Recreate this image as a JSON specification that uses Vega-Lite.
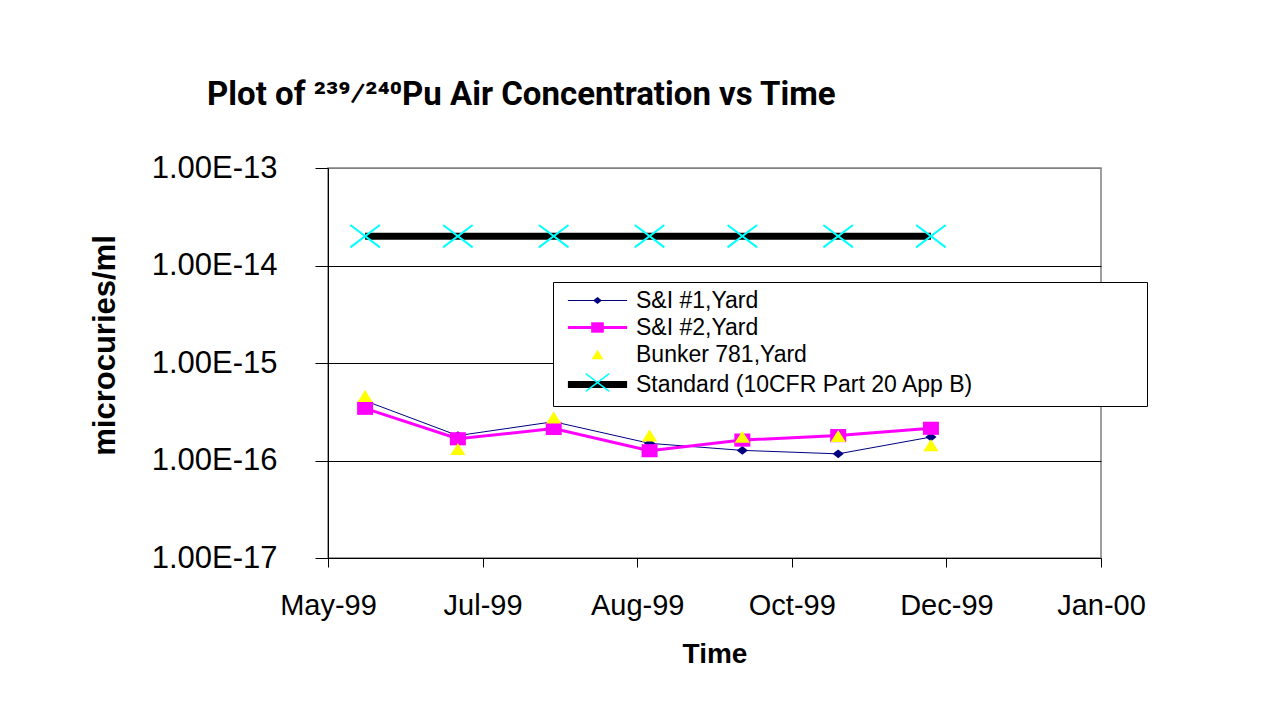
{
  "$schema": "https://vega.github.io/schema/vega-lite/v6.json",
  "width": 773,
  "height": 390,
  "autosize": {"type": "none"},
  "padding": {"left": 328, "top": 168, "right": 163, "bottom": 159},
  "background": "white",
  "title": {
    "text": "Plot of ²³⁹⁄²⁴⁰Pu Air Concentration vs Time",
    "anchor": "start",
    "frame": "group",
    "dx": -121,
    "offset": 40,
    "font": "Roboto",
    "fontSize": 33,
    "fontWeight": "bold",
    "color": "black"
  },
  "config": {
    "font": "Liberation Sans",
    "view": {"stroke": "#808080", "strokeWidth": 1.5},
    "axis": {"labelColor": "black", "titleColor": "black", "domainColor": "black", "tickColor": "black", "labelFlush": false, "labelOverlap": false, "labelBound": false}
  },
  "data": {
    "values": [
      {"date": "1999-05-27", "series": "S&I #1,Yard", "value": 4.1e-16},
      {"date": "1999-06-26", "series": "S&I #1,Yard", "value": 1.8e-16},
      {"date": "1999-07-27", "series": "S&I #1,Yard", "value": 2.5e-16},
      {"date": "1999-08-27", "series": "S&I #1,Yard", "value": 1.5e-16},
      {"date": "1999-09-26", "series": "S&I #1,Yard", "value": 1.27e-16},
      {"date": "1999-10-27", "series": "S&I #1,Yard", "value": 1.17e-16},
      {"date": "1999-11-26", "series": "S&I #1,Yard", "value": 1.74e-16},
      {"date": "1999-05-27", "series": "S&I #2,Yard", "value": 3.43e-16},
      {"date": "1999-06-26", "series": "S&I #2,Yard", "value": 1.67e-16},
      {"date": "1999-07-27", "series": "S&I #2,Yard", "value": 2.13e-16},
      {"date": "1999-08-27", "series": "S&I #2,Yard", "value": 1.26e-16},
      {"date": "1999-09-26", "series": "S&I #2,Yard", "value": 1.62e-16},
      {"date": "1999-10-27", "series": "S&I #2,Yard", "value": 1.8e-16},
      {"date": "1999-11-26", "series": "S&I #2,Yard", "value": 2.14e-16},
      {"date": "1999-05-27", "series": "Bunker 781,Yard", "value": 4.59e-16},
      {"date": "1999-06-26", "series": "Bunker 781,Yard", "value": 1.31e-16},
      {"date": "1999-07-27", "series": "Bunker 781,Yard", "value": 2.76e-16},
      {"date": "1999-08-27", "series": "Bunker 781,Yard", "value": 1.8e-16},
      {"date": "1999-09-26", "series": "Bunker 781,Yard", "value": 1.75e-16},
      {"date": "1999-10-27", "series": "Bunker 781,Yard", "value": 1.78e-16},
      {"date": "1999-11-26", "series": "Bunker 781,Yard", "value": 1.43e-16},
      {"date": "1999-05-27", "series": "Standard (10CFR Part 20 App B)", "value": 2e-14},
      {"date": "1999-06-26", "series": "Standard (10CFR Part 20 App B)", "value": 2e-14},
      {"date": "1999-07-27", "series": "Standard (10CFR Part 20 App B)", "value": 2e-14},
      {"date": "1999-08-27", "series": "Standard (10CFR Part 20 App B)", "value": 2e-14},
      {"date": "1999-09-26", "series": "Standard (10CFR Part 20 App B)", "value": 2e-14},
      {"date": "1999-10-27", "series": "Standard (10CFR Part 20 App B)", "value": 2e-14},
      {"date": "1999-11-26", "series": "Standard (10CFR Part 20 App B)", "value": 2e-14}
    ]
  },
  "encoding": {
    "x": {
      "field": "date",
      "type": "temporal",
      "scale": {
        "type": "utc",
        "domain": [
          {"year": 1999, "month": 5, "date": 15, "utc": true},
          {"year": 2000, "month": 1, "date": 20, "utc": true}
        ]
      },
      "axis": {
        "values": [
          {"year": 1999, "month": 5, "date": 15, "utc": true},
          {"year": 1999, "month": 7, "date": 4, "utc": true},
          {"year": 1999, "month": 8, "date": 23, "utc": true},
          {"year": 1999, "month": 10, "date": 12, "utc": true},
          {"year": 1999, "month": 12, "date": 1, "utc": true},
          {"year": 2000, "month": 1, "date": 20, "utc": true}
        ],
        "labelExpr": "utcFormat(datum.value, '%b-%y')",
        "title": "Time",
        "titleFontSize": 28,
        "titleFontWeight": "bold",
        "titlePadding": 20,
        "labelFontSize": 29,
        "labelPadding": 24,
        "tickSize": 9,
        "grid": false
      }
    },
    "y": {
      "field": "value",
      "type": "quantitative",
      "scale": {"type": "log", "domain": [1e-17, 1e-13]},
      "axis": {
        "values": [1e-17, 1e-16, 1e-15, 1e-14, 1e-13],
        "labelExpr": "'1.00E' + round(log(datum.value) / LN10)",
        "title": "microcuries/ml",
        "titleFontSize": 31,
        "titleFontWeight": "bold",
        "titlePadding": 30,
        "titleY": 177,
        "labelFontSize": 31,
        "labelPadding": 38,
        "tickSize": 13,
        "grid": true,
        "gridColor": {"condition": {"test": "datum.value > 5e-14", "value": "#808080"}, "value": "black"},
        "gridWidth": 1
      }
    }
  },
  "layer": [
    {
      "mark": {"type": "line", "strokeCap": "butt"},
      "encoding": {
        "color": {
          "field": "series",
          "type": "nominal",
          "scale": {
            "domain": ["S&I #1,Yard", "S&I #2,Yard", "Bunker 781,Yard", "Standard (10CFR Part 20 App B)"],
            "range": ["#000080", "#FF00FF", "transparent", "#000000"]
          },
          "legend": {
            "orient": "none", "legendX": 225, "legendY": 114, "title": null,
            "symbolType": "M-3.7,0H3.7", "symbolSize": 256,
            "labelFontSize": 23, "labelColor": "black", "labelLimit": 1000,
            "labelExpr": "datum.label + '\u00a0\u00a0\u00a0\u00a0\u00a0\u00a0\u00a0\u00a0\u00a0\u00a0\u00a0\u00a0\u00a0\u00a0\u00a0\u00a0\u00a0\u00a0\u00a0\u00a0\u00a0\u00a0\u00a0\u00a0\u00a0\u00a0\u200b'",
            "padding": 7, "symbolOffset": 26, "labelOffset": 27, "rowPadding": 3,
            "strokeColor": "black", "fillColor": "white", "zindex": 1
          }
        },
        "strokeWidth": {
          "field": "series",
          "type": "nominal",
          "scale": {
            "type": "point",
            "domain": ["S&I #1,Yard", "S&I #2,Yard", "Bunker 781,Yard", "Standard (10CFR Part 20 App B)"],
            "range": [1, 7],
            "padding": 0
          },
          "legend": {
            "orient": "none", "legendX": 225, "legendY": 114, "title": null,
            "symbolType": "M-3.7,0H3.7", "symbolSize": 256,
            "labelFontSize": 23, "labelColor": "black", "labelLimit": 1000,
            "labelExpr": "datum.label + '\u00a0\u00a0\u00a0\u00a0\u00a0\u00a0\u00a0\u00a0\u00a0\u00a0\u00a0\u00a0\u00a0\u00a0\u00a0\u00a0\u00a0\u00a0\u00a0\u00a0\u00a0\u00a0\u00a0\u00a0\u00a0\u00a0\u200b'",
            "padding": 7, "symbolOffset": 26, "labelOffset": 27, "rowPadding": 3,
            "strokeColor": "black", "fillColor": "white", "zindex": 1
          }
        }
      }
    },
    {
      "mark": {"type": "point", "filled": true, "opacity": 1, "size": 256, "strokeWidth": 2},
      "encoding": {
        "shape": {
          "field": "series",
          "type": "nominal",
          "sort": ["S&I #1,Yard", "S&I #2,Yard", "Bunker 781,Yard", "Standard (10CFR Part 20 App B)"],
          "scale": {"range": ["M0,-0.55L0.7,0L0,0.55L-0.7,0Z", "M-1,-0.82H1V0.82H-1Z", "M0,-0.75L0.95,0.75L-0.95,0.75Z", "M-1.85,-1.4L1.85,1.4M-1.85,1.4L1.85,-1.4"]},
          "legend": {
            "orient": "none", "legendX": 225, "legendY": 114, "title": null,
            "symbolSize": 160, "symbolStrokeWidth": 1.5, "symbolOpacity": 1,
            "symbolFillColor": {"expr": "datum.value === 'S&I #1,Yard' ? '#000080' : datum.value === 'S&I #2,Yard' ? '#FF00FF' : datum.value === 'Bunker 781,Yard' ? '#FFFF00' : 'transparent'"},
            "symbolStrokeColor": {"expr": "datum.value === 'Standard (10CFR Part 20 App B)' ? '#00FFFF' : 'transparent'"},
            "labelFontSize": 23, "labelExpr": "''",
            "padding": 7, "symbolOffset": 26, "labelOffset": 27, "rowPadding": 3, "zindex": 2
          }
        },
        "fill": {
          "field": "series",
          "type": "nominal",
          "sort": ["S&I #1,Yard", "S&I #2,Yard", "Bunker 781,Yard", "Standard (10CFR Part 20 App B)"],
          "scale": {"range": ["#000080", "#FF00FF", "#FFFF00", "transparent"]},
          "legend": null
        },
        "stroke": {
          "field": "series",
          "type": "nominal",
          "sort": ["S&I #1,Yard", "S&I #2,Yard", "Bunker 781,Yard", "Standard (10CFR Part 20 App B)"],
          "scale": {"range": ["transparent", "transparent", "transparent", "#00FFFF"]},
          "legend": null
        }
      }
    }
  ]
}
